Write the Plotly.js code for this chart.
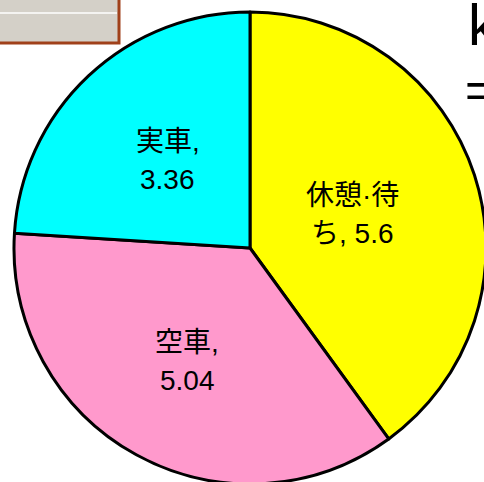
<!DOCTYPE html>
<html>
<head>
<meta charset="utf-8">
<script src="https://cdn.plot.ly/plotly-3.0.1.min.js"></script>
<style>
html,body{margin:0;padding:0;overflow:hidden;background:#fff;width:484px;height:482px;}
#chart{width:500px;height:500px;}
</style>
</head>
<body>
<div id="chart"></div>
<script>
const categories = ["休憩·待ち", "空車", "実車"];
const labelLine1 = ["休憩·待", "空車,", "実車,"];
const labelLine2 = ["ち, 5.6", "5.04", "3.36"];
const values = [5.6, 5.04, 3.36];
const colors = ["#FFFF00", "#FF99CC", "#00FFFF"];

const W = 500, H = 500;
const CX = 250, CY = 248, R = 236;
const labelRadiusFrac = [0.455, 0.55, 0.51];
const FONT = "Arial, 'Liberation Sans', 'Noto Sans CJK JP', sans-serif";

const trace = {
  type: "pie",
  labels: categories,
  values: values,
  textinfo: "none",
  sort: false,
  direction: "clockwise",
  rotation: 0,
  marker: {colors: colors, line: {color: "#000000", width: 3}},
  domain: {x: [(CX - R) / W, (CX + R) / W], y: [1 - (CY + R) / H, 1 - (CY - R) / H]},
  showlegend: false,
  hoverinfo: "none"
};

// label positions derived from slice mid-angles
const total = values.reduce((a, b) => a + b, 0);
const annotations = [];
let cum = 0;
values.forEach((v, i) => {
  const mid = (cum + v / 2) / total * 2 * Math.PI;
  cum += v;
  const r = R * labelRadiusFrac[i];
  const px = CX + r * Math.sin(mid);
  const py = CY - r * Math.cos(mid);
  annotations.push({xref: "paper", yref: "paper", x: px / W, y: 1 - py / H, xanchor: "center", yanchor: "middle",
    yshift: 19, showarrow: false, text: labelLine1[i], font: {family: FONT, size: 28, color: "#000"}});
  annotations.push({xref: "paper", yref: "paper", x: px / W, y: 1 - py / H, xanchor: "center", yanchor: "middle",
    yshift: -19, showarrow: false, text: labelLine2[i], font: {family: FONT, size: 28, color: "#000"}});
});

annotations.push({xref: "paper", yref: "paper", x: 466 / W, y: 1 - 24 / H, xanchor: "left", yanchor: "middle", showarrow: false,
  text: "k", font: {family: "Arial, 'Liberation Sans', sans-serif", size: 58, color: "#000"}});
annotations.push({xref: "paper", yref: "paper", x: 463 / W, y: 1 - 90 / H, xanchor: "left", yanchor: "middle", showarrow: false,
  text: "=", font: {family: "Arial, 'Liberation Sans', sans-serif", size: 50, color: "#000"}});

const layout = {
  width: W,
  height: H,
  margin: {l: 0, r: 0, t: 0, b: 0},
  paper_bgcolor: "#ffffff",
  showlegend: false,
  shapes: [
    {type: "rect", xref: "paper", yref: "paper", x0: -10 / W, x1: 119 / W, y0: 1 - 43 / H, y1: 1 + 10 / H,
     fillcolor: "#D4D0C8", line: {color: "#A0401A", width: 3}},
    {type: "line", xref: "paper", yref: "paper", x0: 0, x1: 117 / W, y0: 1 - 13 / H, y1: 1 - 13 / H,
     line: {color: "#ffffff", width: 1.5}}
  ],
  annotations: annotations
};

Plotly.newPlot("chart", [trace], layout, {displayModeBar: false, staticPlot: true});
</script>
</body>
</html>
